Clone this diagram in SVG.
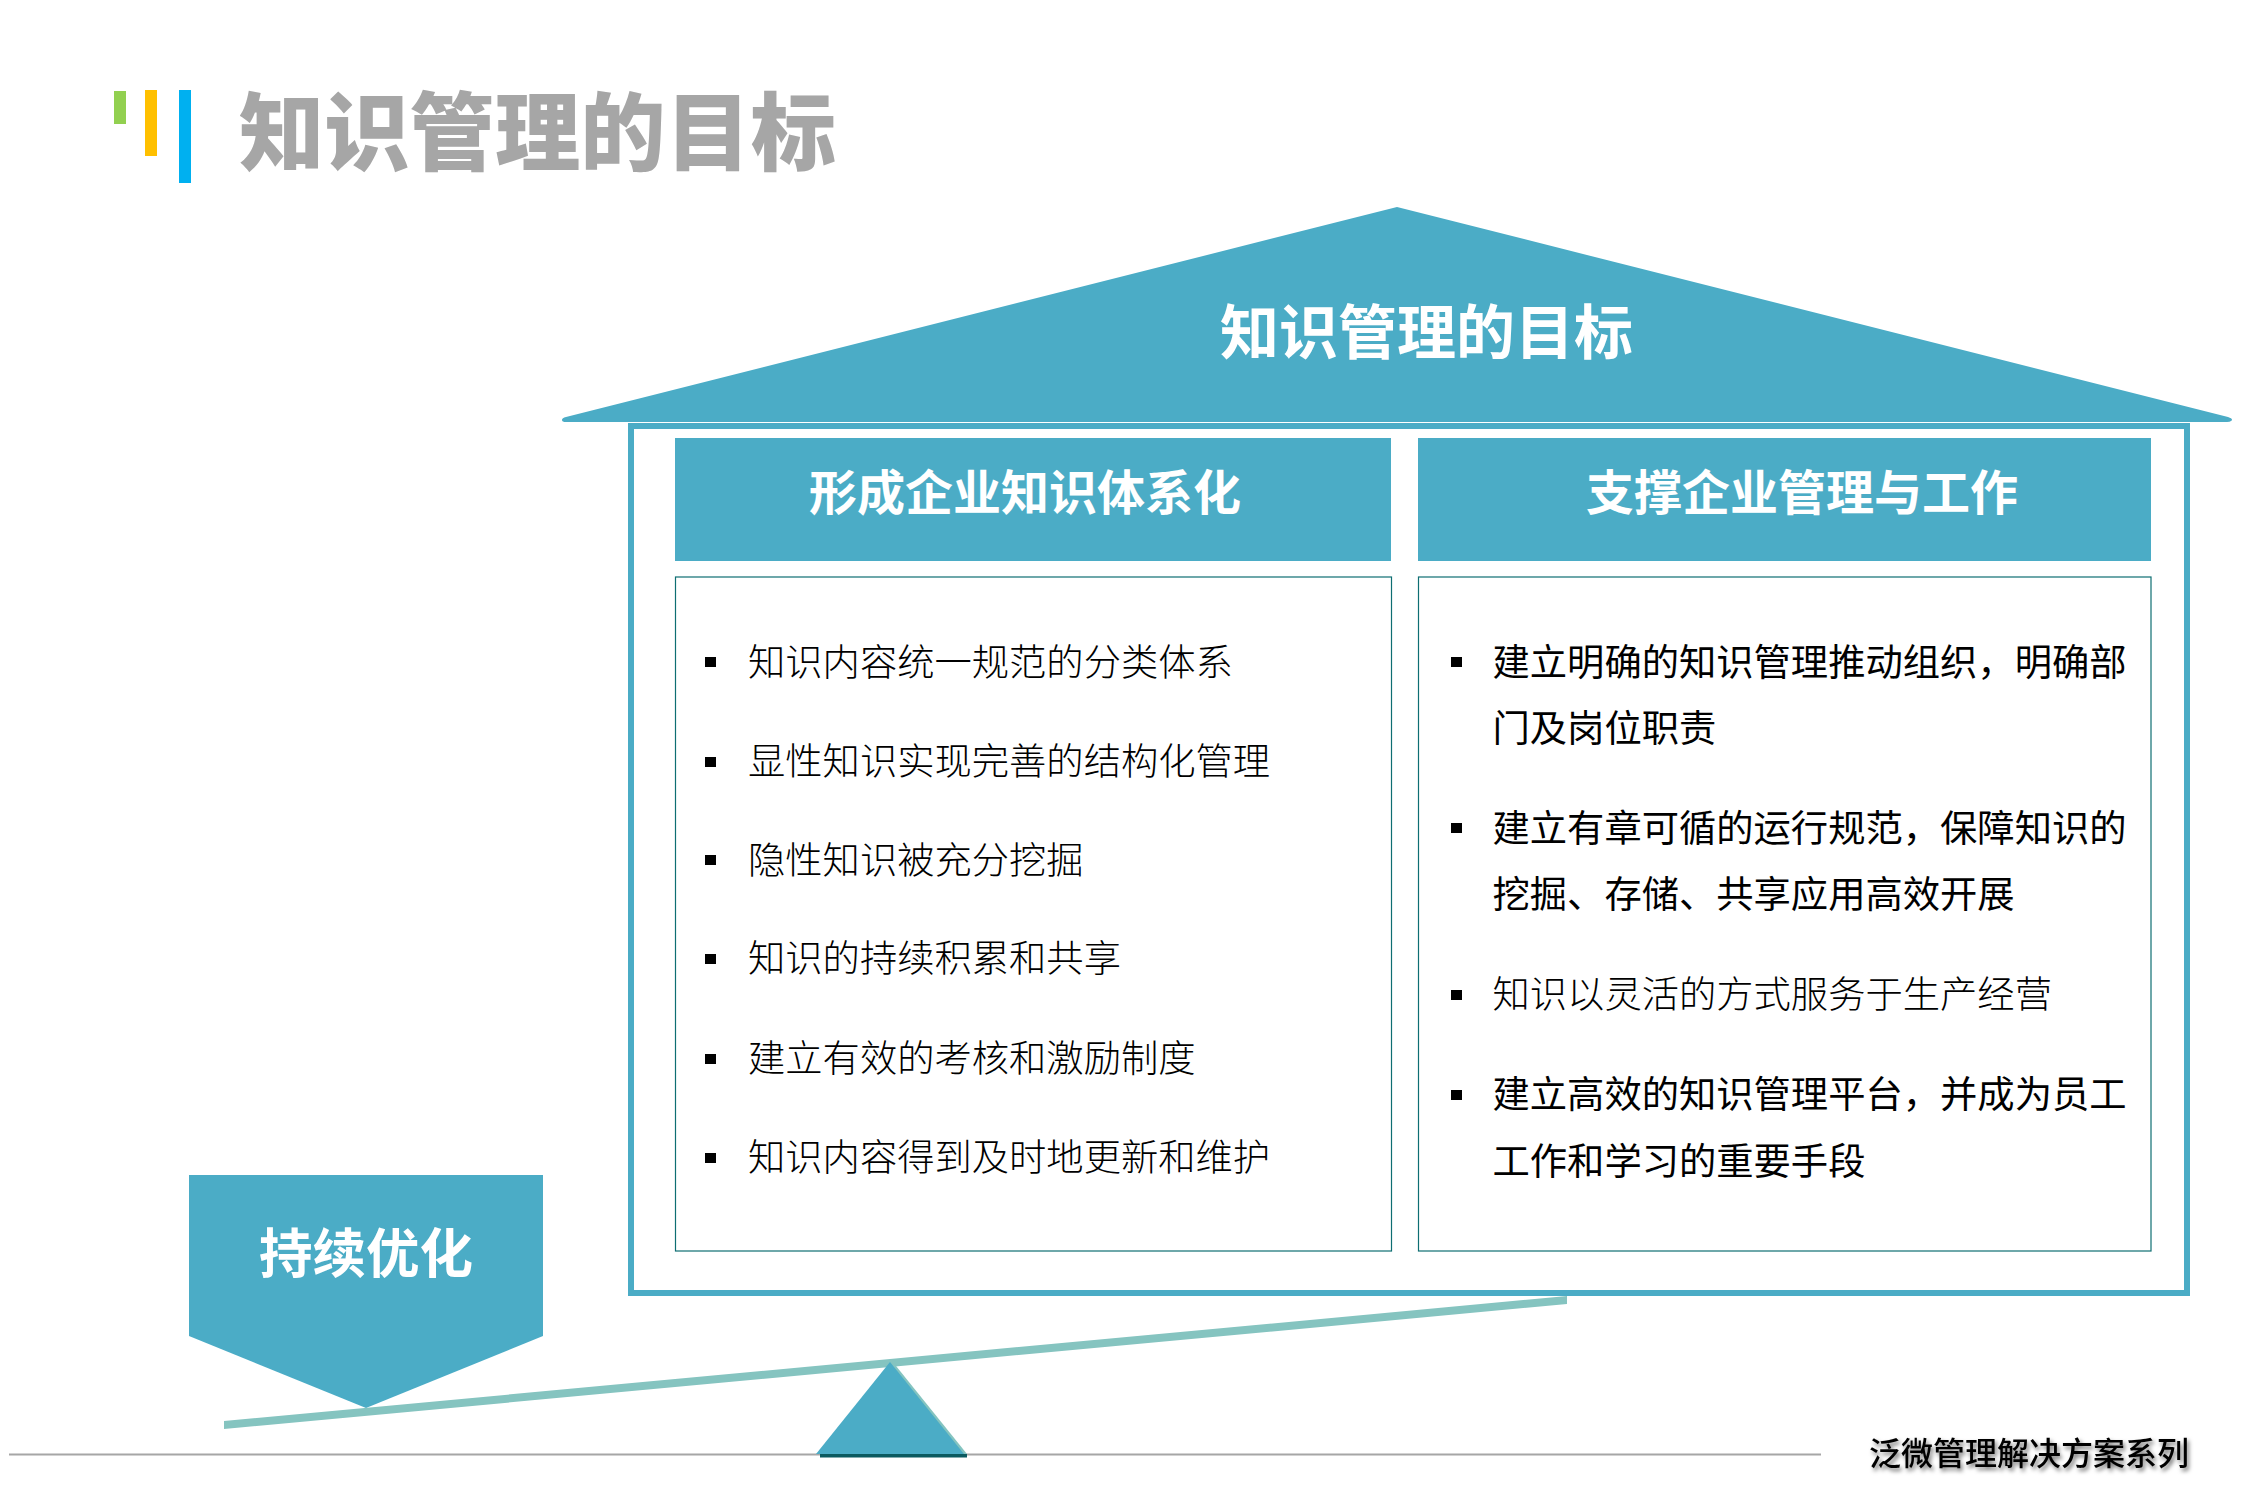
<svg xmlns="http://www.w3.org/2000/svg" width="2268" height="1512" viewBox="0 0 2268 1512">
<style>
text{font-family:"Noto Sans CJK SC","Liberation Sans",sans-serif}
.teal{fill:#4bacc6}
.title{font-size:85.3px;font-weight:900;fill:#a6a6a6}
.roof{font-size:59px;font-weight:700;fill:#fff;text-anchor:middle}
.head{font-size:48px;font-weight:700;fill:#fff;text-anchor:middle}
.thin{font-size:37.3px;font-weight:300;fill:#000}
.reg{font-size:37.3px;font-weight:400;fill:#000}
.box{fill:#fff;stroke:#0e6e72;stroke-width:1.2}
.bul{fill:#000}
</style>
<defs><filter id="sh" x="-5%" y="-30%" width="110%" height="170%"><feDropShadow dx="2" dy="3" stdDeviation="2" flood-color="#000" flood-opacity="0.55"/></filter></defs>
<rect width="2268" height="1512" fill="#fff"/>
<g id="title">
<rect x="114" y="91" width="12" height="33" fill="#92d050"/>
<rect x="145" y="90" width="12" height="66" fill="#ffc000"/>
<rect x="179" y="90" width="12" height="93" fill="#00b0f0"/>
<text class="title" x="239" y="164">知识管理的目标</text>
</g>
<g id="house-frame"><rect x="631" y="426" width="1556" height="867" fill="none" stroke="#4bacc6" stroke-width="6"/><rect x="628" y="423" width="1562" height="6" class="teal"/></g>
<g id="roof">
<path class="teal" d="M1397 207 L2228 417 Q2234 419 2231 421 Q2230 422 2227 422 L566 422 Q562 422 562 420 Q562 418 566 417 Z"/>
<text class="roof" x="1426.5" y="354">知识管理的目标</text>
</g>
<g id="header-left"><rect x="675" y="438" width="716" height="123" class="teal"/><text class="head" x="1025" y="510">形成企业知识体系化</text></g>
<g id="header-right"><rect x="1418" y="438" width="733" height="123" class="teal"/><text class="head" x="1802" y="510">支撑企业管理与工作</text></g>
<g id="box-left">
<rect class="box" x="675.5" y="577" width="716" height="674"/>
<rect class="bul" x="705" y="657" width="11" height="10"/><text class="thin" x="748" y="676">知识内容统一规范的分类体系</text>
<rect class="bul" x="705" y="757" width="11" height="10"/><text class="thin" x="748" y="775">显性知识实现完善的结构化管理</text>
<rect class="bul" x="705" y="855" width="11" height="10"/><text class="thin" x="748" y="874">隐性知识被充分挖掘</text>
<rect class="bul" x="705" y="954" width="11" height="10"/><text class="thin" x="748" y="972">知识的持续积累和共享</text>
<rect class="bul" x="705" y="1054" width="11" height="10"/><text class="thin" x="748" y="1072">建立有效的考核和激励制度</text>
<rect class="bul" x="705" y="1153" width="11" height="10"/><text class="thin" x="748" y="1171">知识内容得到及时地更新和维护</text>
</g>
<g id="box-right">
<rect class="box" x="1418.5" y="577" width="732.5" height="674"/>
<rect class="bul" x="1451" y="657" width="11" height="10"/><text class="reg" x="1492.5" y="676">建立明确的知识管理推动组织，明确部</text><text class="reg" x="1492.5" y="742">门及岗位职责</text>
<rect class="bul" x="1451" y="823" width="11" height="10"/><text class="reg" x="1492.5" y="842">建立有章可循的运行规范，保障知识的</text><text class="reg" x="1492.5" y="908">挖掘、存储、共享应用高效开展</text>
<rect class="bul" x="1451" y="990" width="11" height="10"/><text class="thin" x="1492.5" y="1008">知识以灵活的方式服务于生产经营</text>
<rect class="bul" x="1451" y="1090" width="11" height="10"/><text class="reg" x="1492.5" y="1108">建立高效的知识管理平台，并成为员工</text><text class="reg" x="1492.5" y="1175">工作和学习的重要手段</text>
</g>
<g id="connectors">
<polygon points="224,1421 1567,1296 1567,1304 224,1429" fill="#85c4c0"/>
<line x1="9" y1="1454.5" x2="1821" y2="1454.5" stroke="#a6a6a6" stroke-width="2"/>
</g>
<g id="optimize">
<polygon class="teal" points="189,1175 543,1175 543,1336 366,1408 189,1336"/>
<text x="366" y="1273" font-size="53.5" font-weight="700" fill="#fff" text-anchor="middle">持续优化</text>
</g>
<g id="fulcrum">
<polygon points="892,1361 967,1454 820,1454" fill="#85c4c0"/>
<rect x="820" y="1454" width="147" height="3.5" fill="#0b5a60"/>
<polygon class="teal" points="890,1362 964,1454 816,1454"/>
</g>
<g id="footer"><text x="1869" y="1465" font-size="32" font-weight="500" fill="#000" filter="url(#sh)">泛微管理解决方案系列</text></g>
</svg>
